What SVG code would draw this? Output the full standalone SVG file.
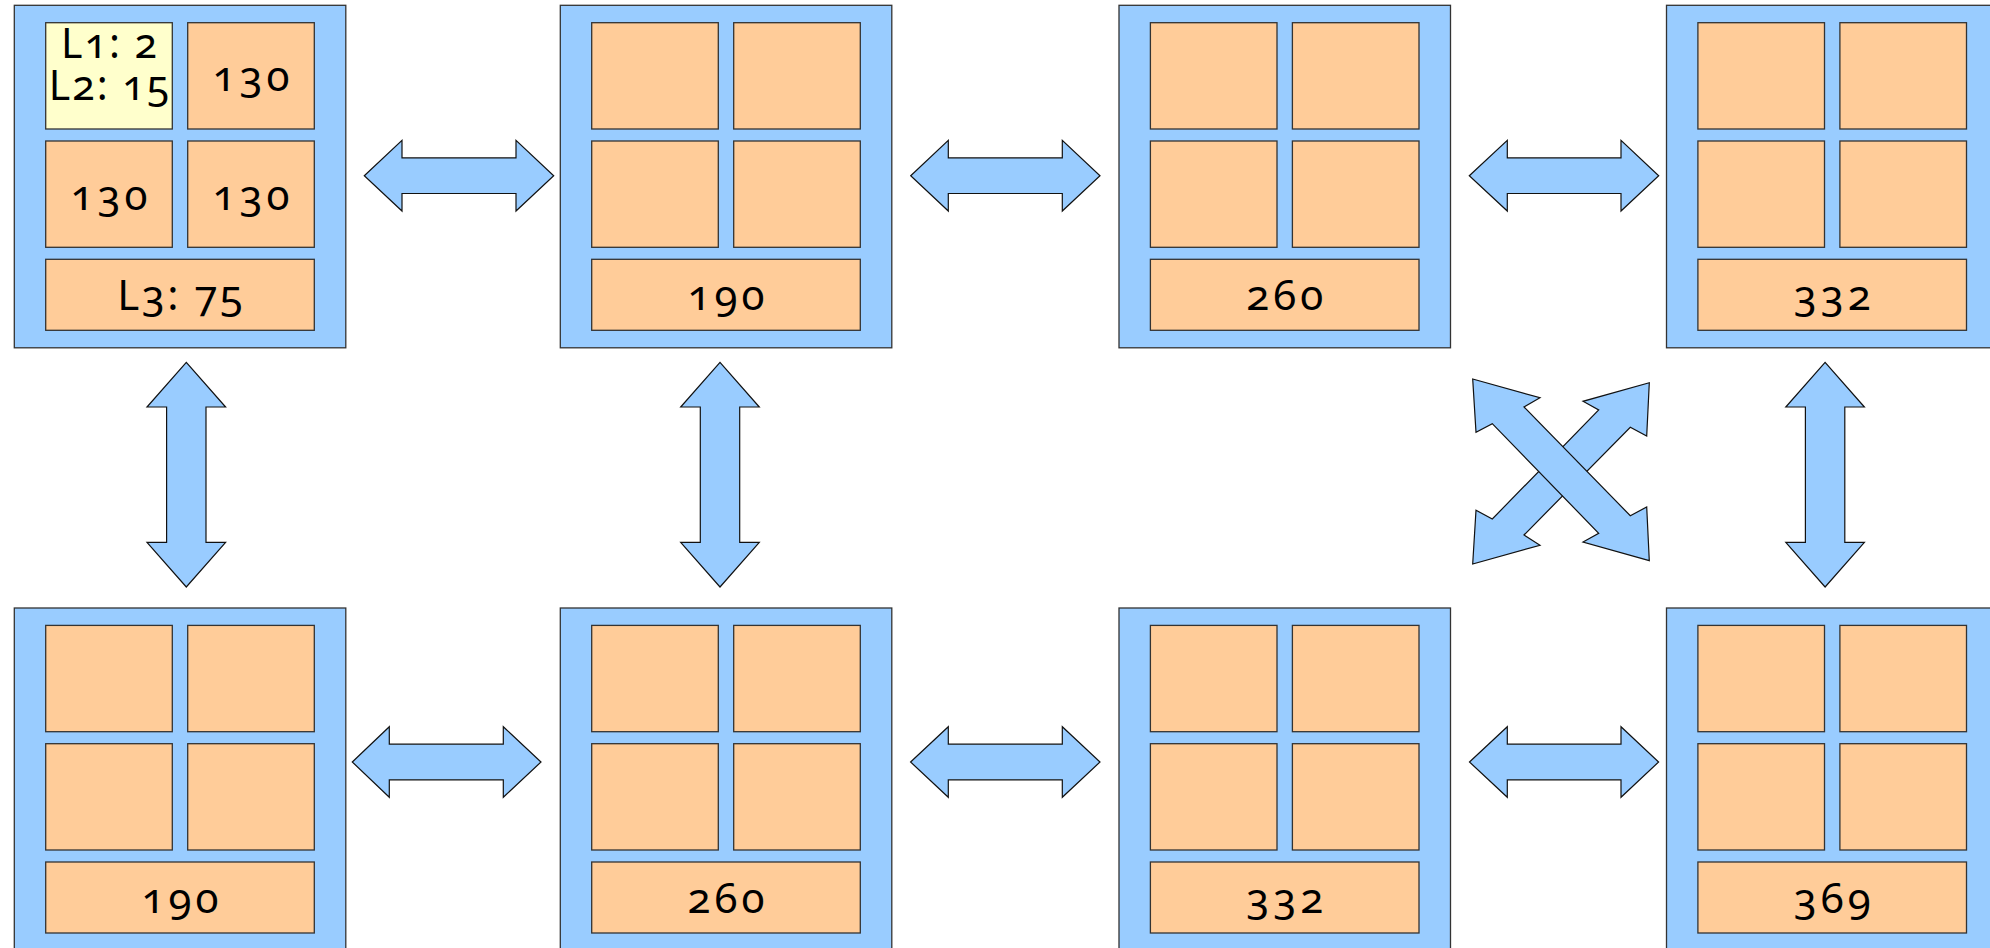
<svg xmlns="http://www.w3.org/2000/svg" width="1990" height="948" viewBox="0 0 1990 948">
<style>
.outer{fill:#99ccff;stroke:#333;stroke-width:1.3}
.cell{fill:#ffcc99;stroke:#333;stroke-width:1.3}
.hi{fill:#ffffcc;stroke:#333;stroke-width:1.3}
.arr{fill:#99ccff;stroke:#111;stroke-width:1.2;stroke-linejoin:miter}
text{font-family:"Noto Sans","Open Sans","DejaVu Sans",sans-serif;font-size:42px;letter-spacing:4px;fill:#000;text-anchor:middle;font-variant-numeric:oldstyle-nums;font-feature-settings:"onum" 1}
text.lab{font-size:41px;letter-spacing:2px}
text.l3{letter-spacing:2.5px}
</style>
<rect width="1990" height="948" fill="#fff"/>
<g id="connectors">
<polygon class="arr" points="364.3,175.7 402,140.4 402,157.9 516,157.9 516,140.4 553.7,175.7 516,211 516,193.5 402,193.5 402,211"/>
<polygon class="arr" points="910.7,175.7 948.3,140.4 948.3,157.9 1062.3,157.9 1062.3,140.4 1100,175.7 1062.3,211 1062.3,193.5 948.3,193.5 948.3,211"/>
<polygon class="arr" points="1469.3,175.7 1507.3,140.4 1507.3,157.9 1621,157.9 1621,140.4 1658.7,175.7 1621,211 1621,193.5 1507.3,193.5 1507.3,211"/>
<polygon class="arr" points="352.3,762 389.3,726.7 389.3,744.2 503.3,744.2 503.3,726.7 541,762 503.3,797.3 503.3,779.8 389.3,779.8 389.3,797.3"/>
<polygon class="arr" points="910.6,762 948.3,726.7 948.3,744.2 1062.3,744.2 1062.3,726.7 1100,762 1062.3,797.3 1062.3,779.8 948.3,779.8 948.3,797.3"/>
<polygon class="arr" points="1469.5,762 1507.3,726.7 1507.3,744.2 1621,744.2 1621,726.7 1658.6,762 1621,797.3 1621,779.8 1507.3,779.8 1507.3,797.3"/>
<polygon class="arr" points="186.3,362.3 225.6,407 206,407 206,542.3 225.6,542.3 186.3,587 147,542.3 166.6,542.3 166.6,407 147,407"/>
<polygon class="arr" points="720,362.3 759.3,407 739.7,407 739.7,542.3 759.3,542.3 720,587 680.7,542.3 700.3,542.3 700.3,407 680.7,407"/>
<polygon class="arr" points="1825.1,362.3 1864.4,407 1844.8,407 1844.8,542.3 1864.4,542.3 1825.1,587 1785.8,542.3 1805.4,542.3 1805.4,407 1785.8,407"/>
<polygon class="arr" points="1472.7,564 1476,510.3 1492.3,519 1598.7,410 1583,401.3 1649.3,382.7 1646.7,436 1630.3,427.3 1524,535 1540,545.3"/>
<polygon class="arr" points="1472.7,379 1540,397.7 1524,407 1630.3,515.7 1646.7,507 1649.3,560.7 1583,542 1598.7,533.3 1492.3,423.7 1476,432.3"/>
</g>
<g id="node-1">
<rect class="outer" x="14.3" y="5.3" width="331.5" height="342.5"/>
<rect class="hi" x="45.7" y="22.7" width="126.6" height="106.3"/>
<rect class="cell" x="187.7" y="22.7" width="126.6" height="106.3"/>
<rect class="cell" x="45.7" y="141" width="126.6" height="106.3"/>
<rect class="cell" x="187.7" y="141" width="126.6" height="106.3"/>
<rect class="cell" x="45.7" y="259.3" width="268.6" height="71"/>
<text class="lab"><tspan x="110" y="58.3">L1: 2</tspan><tspan x="110" y="100">L2: 15</tspan></text>
<text x="253" y="91.3">130</text>
<text x="111" y="209.7">130</text>
<text x="253" y="209.7">130</text>
<text class="l3" x="181.3" y="310.3">L3: 75</text>
</g>
<g id="node-2">
<rect class="outer" x="560.3" y="5.3" width="331.5" height="342.5"/>
<rect class="cell" x="591.7" y="22.7" width="126.6" height="106.3"/>
<rect class="cell" x="733.7" y="22.7" width="126.6" height="106.3"/>
<rect class="cell" x="591.7" y="141" width="126.6" height="106.3"/>
<rect class="cell" x="733.7" y="141" width="126.6" height="106.3"/>
<rect class="cell" x="591.7" y="259.3" width="268.6" height="71"/>
<text x="728" y="310.3">190</text>
</g>
<g id="node-3">
<rect class="outer" x="1119" y="5.3" width="331.5" height="342.5"/>
<rect class="cell" x="1150.4" y="22.7" width="126.6" height="106.3"/>
<rect class="cell" x="1292.4" y="22.7" width="126.6" height="106.3"/>
<rect class="cell" x="1150.4" y="141" width="126.6" height="106.3"/>
<rect class="cell" x="1292.4" y="141" width="126.6" height="106.3"/>
<rect class="cell" x="1150.4" y="259.3" width="268.6" height="71"/>
<text x="1286.7" y="310.3">260</text>
</g>
<g id="node-4">
<rect class="outer" x="1666.5" y="5.3" width="331.5" height="342.5"/>
<rect class="cell" x="1697.9" y="22.7" width="126.6" height="106.3"/>
<rect class="cell" x="1839.9" y="22.7" width="126.6" height="106.3"/>
<rect class="cell" x="1697.9" y="141" width="126.6" height="106.3"/>
<rect class="cell" x="1839.9" y="141" width="126.6" height="106.3"/>
<rect class="cell" x="1697.9" y="259.3" width="268.6" height="71"/>
<text x="1834.2" y="310.3">332</text>
</g>
<g id="node-5">
<rect class="outer" x="14.3" y="608" width="331.5" height="342.5"/>
<rect class="cell" x="45.7" y="625.4" width="126.6" height="106.3"/>
<rect class="cell" x="187.7" y="625.4" width="126.6" height="106.3"/>
<rect class="cell" x="45.7" y="743.7" width="126.6" height="106.3"/>
<rect class="cell" x="187.7" y="743.7" width="126.6" height="106.3"/>
<rect class="cell" x="45.7" y="862" width="268.6" height="71"/>
<text x="182" y="913">190</text>
</g>
<g id="node-6">
<rect class="outer" x="560.3" y="608" width="331.5" height="342.5"/>
<rect class="cell" x="591.7" y="625.4" width="126.6" height="106.3"/>
<rect class="cell" x="733.7" y="625.4" width="126.6" height="106.3"/>
<rect class="cell" x="591.7" y="743.7" width="126.6" height="106.3"/>
<rect class="cell" x="733.7" y="743.7" width="126.6" height="106.3"/>
<rect class="cell" x="591.7" y="862" width="268.6" height="71"/>
<text x="728" y="913">260</text>
</g>
<g id="node-7">
<rect class="outer" x="1119" y="608" width="331.5" height="342.5"/>
<rect class="cell" x="1150.4" y="625.4" width="126.6" height="106.3"/>
<rect class="cell" x="1292.4" y="625.4" width="126.6" height="106.3"/>
<rect class="cell" x="1150.4" y="743.7" width="126.6" height="106.3"/>
<rect class="cell" x="1292.4" y="743.7" width="126.6" height="106.3"/>
<rect class="cell" x="1150.4" y="862" width="268.6" height="71"/>
<text x="1286.7" y="913">332</text>
</g>
<g id="node-8">
<rect class="outer" x="1666.5" y="608" width="331.5" height="342.5"/>
<rect class="cell" x="1697.9" y="625.4" width="126.6" height="106.3"/>
<rect class="cell" x="1839.9" y="625.4" width="126.6" height="106.3"/>
<rect class="cell" x="1697.9" y="743.7" width="126.6" height="106.3"/>
<rect class="cell" x="1839.9" y="743.7" width="126.6" height="106.3"/>
<rect class="cell" x="1697.9" y="862" width="268.6" height="71"/>
<text x="1834.2" y="913">369</text>
</g>
</svg>
